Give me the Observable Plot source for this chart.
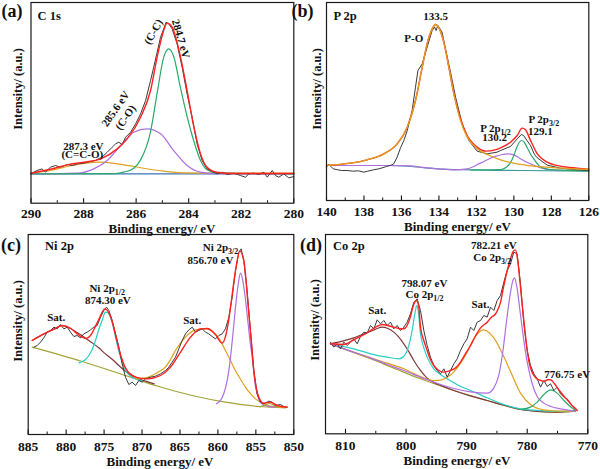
<!DOCTYPE html>
<html>
<head>
<meta charset="utf-8">
<script src="https://cdn.jsdelivr.net/npm/d3@7"></script>
<script src="https://cdn.jsdelivr.net/npm/@observablehq/plot@0.6"></script>
<style>
  body { margin: 0; background: #fff; }
  #wrap { position: relative; width: 600px; height: 469px; overflow: hidden;
          font-family: "Liberation Serif", "Times New Roman", serif; font-weight: bold; color: #111; }
  .lab { position: absolute; white-space: nowrap; line-height: 1; }
</style>
</head>
<body>
<div id="wrap"></div>
<script>
// ---------- Panel (a) C 1s : [binding energy eV, intensity a.u.] ----------
const aTicks = [290, 288, 286, 284, 282, 280];
const aMinor = [289, 287, 285, 283, 281];
const aRaw = [[290.0,88],[289.89,93],[289.77,98],[289.58,103],[289.45,93],[289.26,108],[289.07,113],[288.88,108],[288.62,116],[288.43,113],[288.24,118],[287.99,120],[287.74,125],[287.55,128],[287.36,136],[287.23,143],[287.10,153],[286.91,168],[286.78,178],[286.66,183],[286.53,176],[286.40,198],[286.21,213],[286.02,238],[285.83,268],[285.64,308],[285.45,368],[285.33,408],[285.20,453],[285.07,498],[284.95,523],[284.86,543],[284.76,538],[284.63,523],[284.44,478],[284.25,408],[284.06,328],[283.87,258],[283.68,178],[283.49,128],[283.30,103],[283.11,96],[282.92,88],[282.72,93],[282.53,86],[282.28,90],[282.03,83],[281.84,78],[281.71,88],[281.52,90],[281.33,86],[281.14,93],[281.01,78],[280.82,98],[280.70,83],[280.57,78],[280.38,88],[280.19,76],[280.00,80]];
const aFit = [[290.0,90],[289.26,102],[288.62,115],[287.99,123],[287.35,133],[286.72,163],[286.34,193],[285.83,258],[285.45,338],[285.20,438],[284.95,518],[284.82,540],[284.63,528],[284.31,438],[284.06,338],[283.80,228],[283.55,148],[283.30,108],[282.92,93],[282.28,89],[280.0,89]];
const aCC = [[290,88],[286.8,89],[286.47,93],[286.09,105],[285.83,130],[285.45,215],[285.20,330],[284.95,438],[284.76,463],[284.57,440],[284.31,345],[284.06,260],[283.80,185],[283.55,128],[283.30,100],[282.92,90],[280,88]];
const aCO = [[290,88],[288.24,90],[287.61,103],[287.10,128],[286.59,173],[286.09,213],[285.58,223],[285.07,208],[284.57,158],[284.06,113],[283.55,93],[283.04,89],[280,88]];
const aCCO = [[290,90],[289.26,98],[288.62,110],[287.99,119],[287.35,123],[286.72,118],[286.09,110],[285.45,101],[284.82,95],[284.06,91],[282.92,90],[280,90]];
const aBase = [[290,88],[280,88]];

// ---------- Panel (b) P 2p ----------
const bTicks = [140, 138, 136, 134, 132, 130, 128, 126];
const bMinor = [139, 137, 135, 133, 131, 129, 127];
const bRaw = [[140.0,100],[139.9,108],[139.8,104],[139.64,95],[139.4,92],[139.2,90],[138.9,90],[138.6,88],[138.3,89],[138.0,85],[137.8,88],[137.5,92],[137.2,95],[136.8,102],[136.5,107],[136.41,110],[136.23,130],[136.05,158],[135.87,180],[135.69,210],[135.43,270],[135.25,340],[135.12,390],[134.89,410],[134.63,460],[134.36,510],[134.23,520],[134.15,510],[134.06,525],[133.83,505],[133.65,455],[133.38,385],[133.11,310],[132.76,230],[132.40,180],[131.96,148],[131.42,140],[130.9,145],[130.71,150],[130.18,162],[129.82,185],[129.6,198],[129.48,195],[129.3,180],[129.11,165],[128.9,138],[128.75,128],[128.22,106],[127.51,97],[126.62,92],[126.0,90]];
const bFit = [[140,105],[138.72,112],[137.83,122],[136.94,140],[136.23,170],[135.69,220],[135.25,300],[134.89,400],[134.63,470],[134.36,515],[134.18,528],[134.0,518],[133.74,475],[133.47,400],[133.20,320],[132.85,245],[132.49,195],[131.96,160],[131.51,148],[131.0,152],[130.71,158],[130.18,175],[129.82,195],[129.56,217],[129.38,212],[129.11,180],[128.75,140],[128.22,115],[127.51,103],[126.62,97],[126.0,94]];
const bPO = [[140,105],[138.72,112],[137.83,122],[136.94,140],[136.23,170],[135.69,220],[135.25,300],[134.89,400],[134.63,470],[134.36,515],[134.18,528],[134.0,518],[133.74,475],[133.47,400],[133.20,320],[132.85,240],[132.49,190],[131.96,155],[131.42,138],[130.71,122],[129.82,110],[128.93,103],[127.51,97],[126.0,93]];
const bP12 = [[140,105],[137,105],[135.5,104],[135.0,100],[134.0,95],[133.2,92],[132.5,95],[131.79,112],[131.1,130],[130.6,138],[130.35,140],[130.0,137],[129.7,127],[129.3,115],[128.9,105],[128.2,93],[127.0,90],[126.0,90]];
const bP32 = [[132.3,92],[130.7,93],[130.4,100],[130.2,112],[130.0,135],[129.84,160],[129.6,180],[129.45,175],[129.3,160],[129.1,138],[128.9,122],[128.6,102],[128.2,94],[127.9,92],[126.0,89]];
const bBase = [[140,105],[136.5,105],[135.5,102],[134.1,95],[132.3,92],[129.6,90],[126.0,88]];

// ---------- Panel (c) Ni 2p ----------
const cTicks = [885, 880, 875, 870, 865, 860, 855, 850];
const cMinor = [882.5, 877.5, 872.5, 867.5, 862.5, 857.5, 852.5];
const cRaw = [[884.25,262],[883.81,267],[883.38,277],[882.94,290],[882.50,307],[882.06,312],[881.62,322],[881.18,317],[880.74,330],[880.30,317],[879.86,322],[879.42,307],[878.98,294],[878.54,297],[878.11,290],[877.67,302],[877.23,307],[876.79,314],[876.35,322],[875.91,327],[875.47,352],[875.03,372],[874.68,382],[874.37,372],[873.93,342],[873.49,302],[873.05,262],[872.62,212],[872.18,172],[871.74,150],[871.30,157],[870.86,147],[870.42,162],[869.98,157],[869.54,167],[868.88,172],[868.22,175],[867.56,182],[866.91,192],[866.47,202],[866.03,217],[865.59,232],[865.15,257],[864.71,282],[864.27,302],[863.83,314],[863.39,322],[862.95,307],[862.51,312],[862.07,317],[861.64,307],[861.20,302],[860.76,294],[860.32,287],[859.88,297],[859.44,302],[859.0,317],[858.56,352],[858.12,412],[857.68,492],[857.24,547],[856.94,557],[856.59,522],[856.15,432],[855.71,312],[855.27,192],[854.83,122],[854.39,97],[853.95,92],[853.29,100],[852.85,97],[852.41,87],[851.75,90],[851.31,84],[850.88,82]];
const cFit = [[884.47,282],[882.94,302],[881.6,316],[880.52,327],[879.4,318],[878.54,302],[877.9,292],[877.45,288],[877.0,292],[876.57,305],[876.13,325],[875.7,345],[874.9,377],[874.16,355],[873.5,300],[872.84,240],[872.18,200],[870.86,172],[869.3,167],[867.56,177],[866.25,202],[864.93,247],[863.61,292],[862.29,317],[861.4,318],[860.33,300],[859.45,274],[858.99,295],[858.6,340],[858.34,382],[857.68,492],[857.11,550],[856.59,522],[855.93,362],[855.6,280],[855.27,192],[854.61,112],[853.95,94],[853.07,97],[852.19,87],[850.88,82]];
const cSat1 = [[884.47,282],[882.94,302],[881.6,316],[880.52,327],[879.4,318],[878.5,305],[877.89,296],[877.2,285],[876.57,275],[875.7,260],[874.82,242],[873.9,225],[873.06,207],[872.2,190],[871.3,178],[870.5,168],[869.5,160],[868.4,152]];
const cNi12 = [[878.3,215],[877.89,219],[877.45,225],[877.01,237],[876.57,255],[876.13,282],[875.7,315],[875.26,342],[874.82,367],[874.5,365],[874.16,352],[873.8,325],[873.5,292],[872.84,232],[872.18,192],[871.5,175],[870.86,167],[870.0,160]];
const cSat2 = [[870.86,167],[869.8,169],[868.67,177],[867.8,188],[866.92,202],[866.25,225],[865.6,252],[864.9,275],[864.28,292],[862.96,314],[861.65,317],[860.33,302],[859.65,280],[859.0,252],[858.34,222],[857.7,192],[857.0,165],[856.38,142],[855.7,122],[855.06,107],[853.74,90],[851.99,82],[850.88,81]];
const cNi32 = [[860.2,92],[859.5,108],[859.0,140],[858.6,185],[858.34,232],[857.9,330],[857.6,400],[857.3,455],[857.02,484],[856.75,465],[856.37,405],[856.15,360],[855.71,270],[855.5,235],[855.05,145],[854.6,105],[854.2,92],[853.5,85],[852.5,82]];
const cSmall = [[854.5,83],[853.8,88],[853.2,93],[852.7,89],[852.1,82]];
const cBase = [[884.48,262],[877.89,219],[872.18,177],[867.79,144],[863.4,117],[859.0,97],[854.6,84],[851.1,80]];

// ---------- Panel (d) Co 2p ----------
const dTicks = [810, 800, 790, 780, 770];
const dMinor = [805, 795, 785, 775];
const dRaw = [[812.48,275],[811.93,260],[811.38,270],[810.83,255],[810.28,275],[809.72,265],[809.17,275],[808.62,285],[808.07,270],[807.52,292],[806.97,305],[806.42,302],[805.87,325],[805.32,315],[804.77,342],[804.22,330],[803.67,340],[803.12,325],[802.57,335],[802.02,315],[801.47,325],[800.92,310],[800.37,320],[799.82,335],[799.27,360],[798.72,395],[798.17,405],[797.62,370],[797.07,310],[796.52,265],[795.97,230],[795.42,205],[794.87,190],[794.31,180],[793.76,195],[793.21,170],[792.66,190],[792.11,210],[791.56,225],[791.01,250],[790.46,270],[789.91,285],[789.36,320],[788.81,310],[788.26,335],[787.71,340],[787.16,355],[786.61,350],[786.06,380],[785.51,370],[784.96,400],[784.41,415],[783.86,455],[783.31,490],[782.76,510],[782.21,545],[781.66,540],[781.11,450],[780.56,330],[780.01,250],[779.46,205],[778.90,180],[778.35,165],[777.80,140],[777.25,160],[776.70,142],[776.15,150],[775.60,130],[775.05,140],[774.50,120],[773.95,110],[773.40,105],[772.85,90],[772.30,80],[771.75,70]];
const dFit = [[812.48,270],[810.3,268],[808.62,282],[807.2,295],[805.87,310],[804.8,322],[803.94,328],[803.0,325],[802.02,320],[801.2,316],[800.37,315],[799.82,325],[799.3,350],[798.8,385],[798.28,400],[797.9,380],[797.62,320],[797.07,280],[796.52,250],[795.97,222],[795.42,205],[794.6,190],[793.77,185],[792.66,190],[791.7,200],[791.01,215],[790.2,240],[789.36,265],[788.5,295],[787.71,318],[786.61,335],[785.9,350],[785.3,358],[784.96,368],[784.4,395],[783.86,445],[783.3,490],[782.76,525],[782.3,548],[781.93,552],[781.6,525],[781.11,440],[780.56,340],[780.2,280],[779.7,215],[779.2,185],[778.6,168],[777.8,160],[777.25,157],[776.6,162],[776.15,162],[775.5,150],[774.7,130],[773.9,112],[773.3,100],[772.6,85],[772.0,75],[771.75,70]];
const dCo12 = [[812.48,270],[808.62,255],[805.87,240],[803.12,230],[801.2,225],[800.4,232],[799.82,250],[799.4,275],[799.0,310],[798.7,345],[798.44,370],[798.28,385],[798.0,370],[797.62,300],[797.1,260],[796.52,230],[795.42,195],[794.3,178],[793.22,165],[791.3,145],[789.36,130],[786.61,108],[783.86,88],[781.11,75],[778.4,70],[775.6,67],[772.03,68]];
const dSat1 = [[812.48,270],[810.5,278],[808.62,288],[807.2,298],[805.87,307],[804.8,316],[803.94,320],[803.0,316],[802.02,305],[801.2,290],[800.37,270],[799.5,245],[798.72,220],[797.62,190],[796.52,167],[795.5,155],[794.0,143],[792.11,130],[789.4,114],[786.61,100],[783.86,86],[781.11,73],[778.4,67],[775.6,65],[772.03,68]];
const dSat2 = [[812.48,270],[809.17,248],[805.87,228],[803.12,212],[800.37,195],[797.62,172],[795.42,160],[794.32,161],[793.2,170],[792.11,186],[790.9,215],[789.91,245],[788.8,285],[787.9,306],[787.3,312],[786.6,308],[785.51,288],[784.13,242],[782.76,187],[781.11,122],[779.46,88],[777.25,72],[774.5,68],[772.03,68]];
const dCo32 = [[812.48,270],[809.17,248],[805.87,228],[803.12,208],[800.37,190],[796.52,162],[792.11,136],[789.36,126],[786.61,122],[785.5,138],[784.7,175],[784.0,250],[783.4,340],[782.8,420],[782.4,458],[782.1,468],[781.7,440],[781.2,370],[780.6,285],[780.0,215],[779.46,170],[778.91,135],[778.36,112],[777.25,92],[776.1,82],[774.5,75],[772.03,68]];
const dPeak3 = [[781.11,73],[779.46,80],[778.36,95],[777.25,118],[776.15,132],[775.05,122],[773.95,100],[773.1,85],[772.03,70]];
const dBase = [[812.48,270],[805.87,225],[801.5,193],[797.62,165],[792.11,130],[786.61,100],[781.11,73],[775.6,65],[772.03,68]];

// ---------- drawing ----------
const C = {
  raw: "#3a3a3a", red: "#ff2020", green: "#2aa96b", purple: "#b06ee0",
  orange: "#dfa01f", blue: "#3a76b8", teal: "#3c9c9c", cyan: "#29cfc6",
  brown: "#7e3a3a", olive: "#a3a336"
};
const wrap = document.getElementById("wrap");
const NS = "http://www.w3.org/2000/svg";

function panel(cfg) {
  const innerH = cfg.height - cfg.mt - cfg.mb;
  const marks = [
    Plot.tickX(cfg.major, {x: d => d, insetTop: innerH - 4.5, stroke: "#111", strokeWidth: 1.1}),
    Plot.tickX(cfg.minor, {x: d => d, insetTop: innerH - 2.5, stroke: "#111", strokeWidth: 1})
  ];
  for (const s of cfg.series) {
    marks.push(Plot.line(s.data, {
      x: d => d[0], y: d => d[1], stroke: s.color,
      strokeWidth: s.width ?? 1.2, curve: s.curve ?? "monotone-x"
    }));
  }
  marks.push(Plot.frame({stroke: "#1a1a1a", strokeWidth: 1.2}));
  marks.push(Plot.axisX({ticks: cfg.major, tickSize: 0, tickPadding: cfg.pad, tickFormat: d => String(d), fill: "#111"}));
  marks.push(Plot.text(cfg.notes, {x: "x", y: "y", text: "t", rotate: "r", fontSize: 11, fontWeight: "bold", fill: "#111"}));
  const svg = Plot.plot({
    width: 300, height: cfg.height,
    marginLeft: cfg.ml, marginRight: cfg.mr, marginTop: cfg.mt, marginBottom: cfg.mb,
    x: {domain: cfg.xd, label: null},
    y: {domain: cfg.yd, axis: null},
    style: {fontFamily: "'Liberation Serif', 'Times New Roman', serif", fontSize: "13.5px",
            fontWeight: "bold", overflow: "visible", background: "transparent", color: "#111"},
    marks
  });
  svg.querySelectorAll("text").forEach(el => {
    const s = el.textContent;
    if (s.includes("|")) {
      const [main, sub] = s.split("|");
      el.textContent = "";
      const t1 = document.createElementNS(NS, "tspan"); t1.textContent = main;
      const t2 = document.createElementNS(NS, "tspan"); t2.textContent = sub;
      t2.setAttribute("font-size", "8");
      t2.setAttribute("dy", "3");
      el.append(t1, t2);
    }
  });
  svg.style.position = "absolute";
  svg.style.left = cfg.left + "px";
  svg.style.top = cfg.top + "px";
  wrap.appendChild(svg);
}

function lab(text, x, y, size, rot, start) {
  const d = document.createElement("div");
  d.className = "lab";
  d.textContent = text;
  d.style.left = x + "px";
  d.style.top = y + "px";
  d.style.fontSize = size + "px";
  d.style.transform = `translate(${start ? "0" : "-50%"},-50%)` + (rot ? ` rotate(${rot}deg)` : "");
  wrap.appendChild(d);
}

panel({
  left: 0, top: 0, height: 230, ml: 30.5, mr: 6.7, mt: 2, mb: 27.3, pad: 5.5,
  xd: [290, 280], yd: [0, 602], major: aTicks, minor: aMinor,
  series: [
    {data: aBase, color: C.blue},
    {data: aCCO, color: C.orange},
    {data: aCO, color: C.purple},
    {data: aCC, color: C.green},
    {data: aRaw, color: C.raw, width: 1, curve: "linear"},
    {data: aFit, color: C.red, width: 1.4}
  ],
  notes: [
    {x: 284.30, y: 493, t: "284.7 eV", r: 74},
    {x: 285.34, y: 514, t: "(C-C)", r: -61},
    {x: 286.78, y: 283, t: "285.6 eV", r: -55},
    {x: 286.40, y: 257, t: "(C-O)", r: -55},
    {x: 288.01, y: 171, t: "287.3 eV", r: 0},
    {x: 288.05, y: 146, t: "(C=C-O)", r: 0}
  ]
});

panel({
  left: 300, top: 0, height: 230, ml: 26, mr: 11.7, mt: 2, mb: 30, pad: 6.3,
  xd: [140, 126], yd: [0, 594], major: bTicks, minor: bMinor,
  series: [
    {data: bBase, color: C.teal},
    {data: bP12, color: C.purple},
    {data: bP32, color: C.green},
    {data: bRaw, color: C.raw, width: 1, curve: "linear"},
    {data: bFit, color: C.red, width: 1.4},
    {data: bPO, color: C.orange, width: 1.3}
  ],
  notes: [
    {x: 134.18, y: 552, t: "133.5", r: 0},
    {x: 135.34, y: 485, t: "P-O", r: 0},
    {x: 130.98, y: 215, t: "P 2p|1/2", r: 0},
    {x: 131.02, y: 188, t: "130.2", r: 0},
    {x: 128.40, y: 243, t: "P 2p|3/2", r: 0},
    {x: 128.58, y: 207, t: "129.1", r: 0}
  ]
});

panel({
  left: 0, top: 230, height: 239, ml: 27.7, mr: 6.7, mt: 4, mb: 35, pad: 6.5,
  xd: [885, 850], yd: [0, 600], major: cTicks, minor: cMinor,
  series: [
    {data: cBase, color: C.olive},
    {data: cSat1, color: C.brown},
    {data: cNi12, color: C.cyan},
    {data: cSat2, color: C.orange},
    {data: cNi32, color: C.purple},
    {data: cSmall, color: C.olive},
    {data: cRaw, color: C.raw, width: 1, curve: "linear"},
    {data: cFit, color: C.red, width: 1.4}
  ],
  notes: [
    {x: 859.66, y: 562, t: "Ni 2p|3/2", r: 0},
    {x: 860.98, y: 522, t: "856.70 eV", r: 0},
    {x: 874.59, y: 437, t: "Ni 2p|1/2", r: 0},
    {x: 874.51, y: 402, t: "874.30 eV", r: 0},
    {x: 881.31, y: 350, t: "Sat.", r: 0},
    {x: 863.39, y: 342, t: "Sat.", r: 0}
  ]
});

panel({
  left: 300, top: 230, height: 239, ml: 25, mr: 12.7, mt: 4, mb: 35.7, pad: 6.6,
  xd: [813.3, 770], yd: [0, 598], major: dTicks, minor: dMinor,
  series: [
    {data: dBase, color: C.olive},
    {data: dSat1, color: C.brown},
    {data: dCo12, color: C.cyan},
    {data: dSat2, color: C.orange},
    {data: dCo32, color: C.purple},
    {data: dPeak3, color: C.green},
    {data: dRaw, color: C.raw, width: 1, curve: "linear"},
    {data: dFit, color: C.red, width: 1.4}
  ],
  notes: [
    {x: 785.52, y: 565, t: "782.21 eV", r: 0},
    {x: 785.78, y: 528, t: "Co 2p|3/2", r: 0},
    {x: 796.96, y: 452, t: "798.07 eV", r: 0},
    {x: 796.96, y: 418, t: "Co 2p|1/2", r: 0},
    {x: 804.77, y: 370, t: "Sat.", r: 0},
    {x: 787.71, y: 388, t: "Sat.", r: 0},
    {x: 773.40, y: 178, t: "776.75 eV", r: 0}
  ]
});

// panel letters, headings, axis titles
lab("(a)", 12, 10.5, 18);
lab("C 1s", 37.5, 15.5, 12.5, 0, true);
lab("(b)", 302.5, 10.5, 18);
lab("P 2p", 333.5, 16, 12.5, 0, true);
lab("(c)", 11, 245, 18);
lab("Ni 2p", 45, 246, 12.5, 0, true);
lab("(d)", 311, 245, 18);
lab("Co 2p", 333, 246, 12.5, 0, true);

lab("Binding energy/ eV", 162, 227.5, 13);
lab("Binding energy/ eV", 457.5, 225.5, 13);
lab("Binding energy/ eV", 160, 460.5, 13);
lab("Binding energy/ eV", 457, 460, 13);

lab("Intensity/ (a.u.)", 17.7, 89, 12.5, -90);
lab("Intensity/ (a.u.)", 316.7, 89, 12.5, -90);
lab("Intensity/ (a.u.)", 17.7, 320.7, 12.5, -90);
lab("Intensity/ (a.u.)", 315, 320, 12.5, -90);
</script>
</body>
</html>
